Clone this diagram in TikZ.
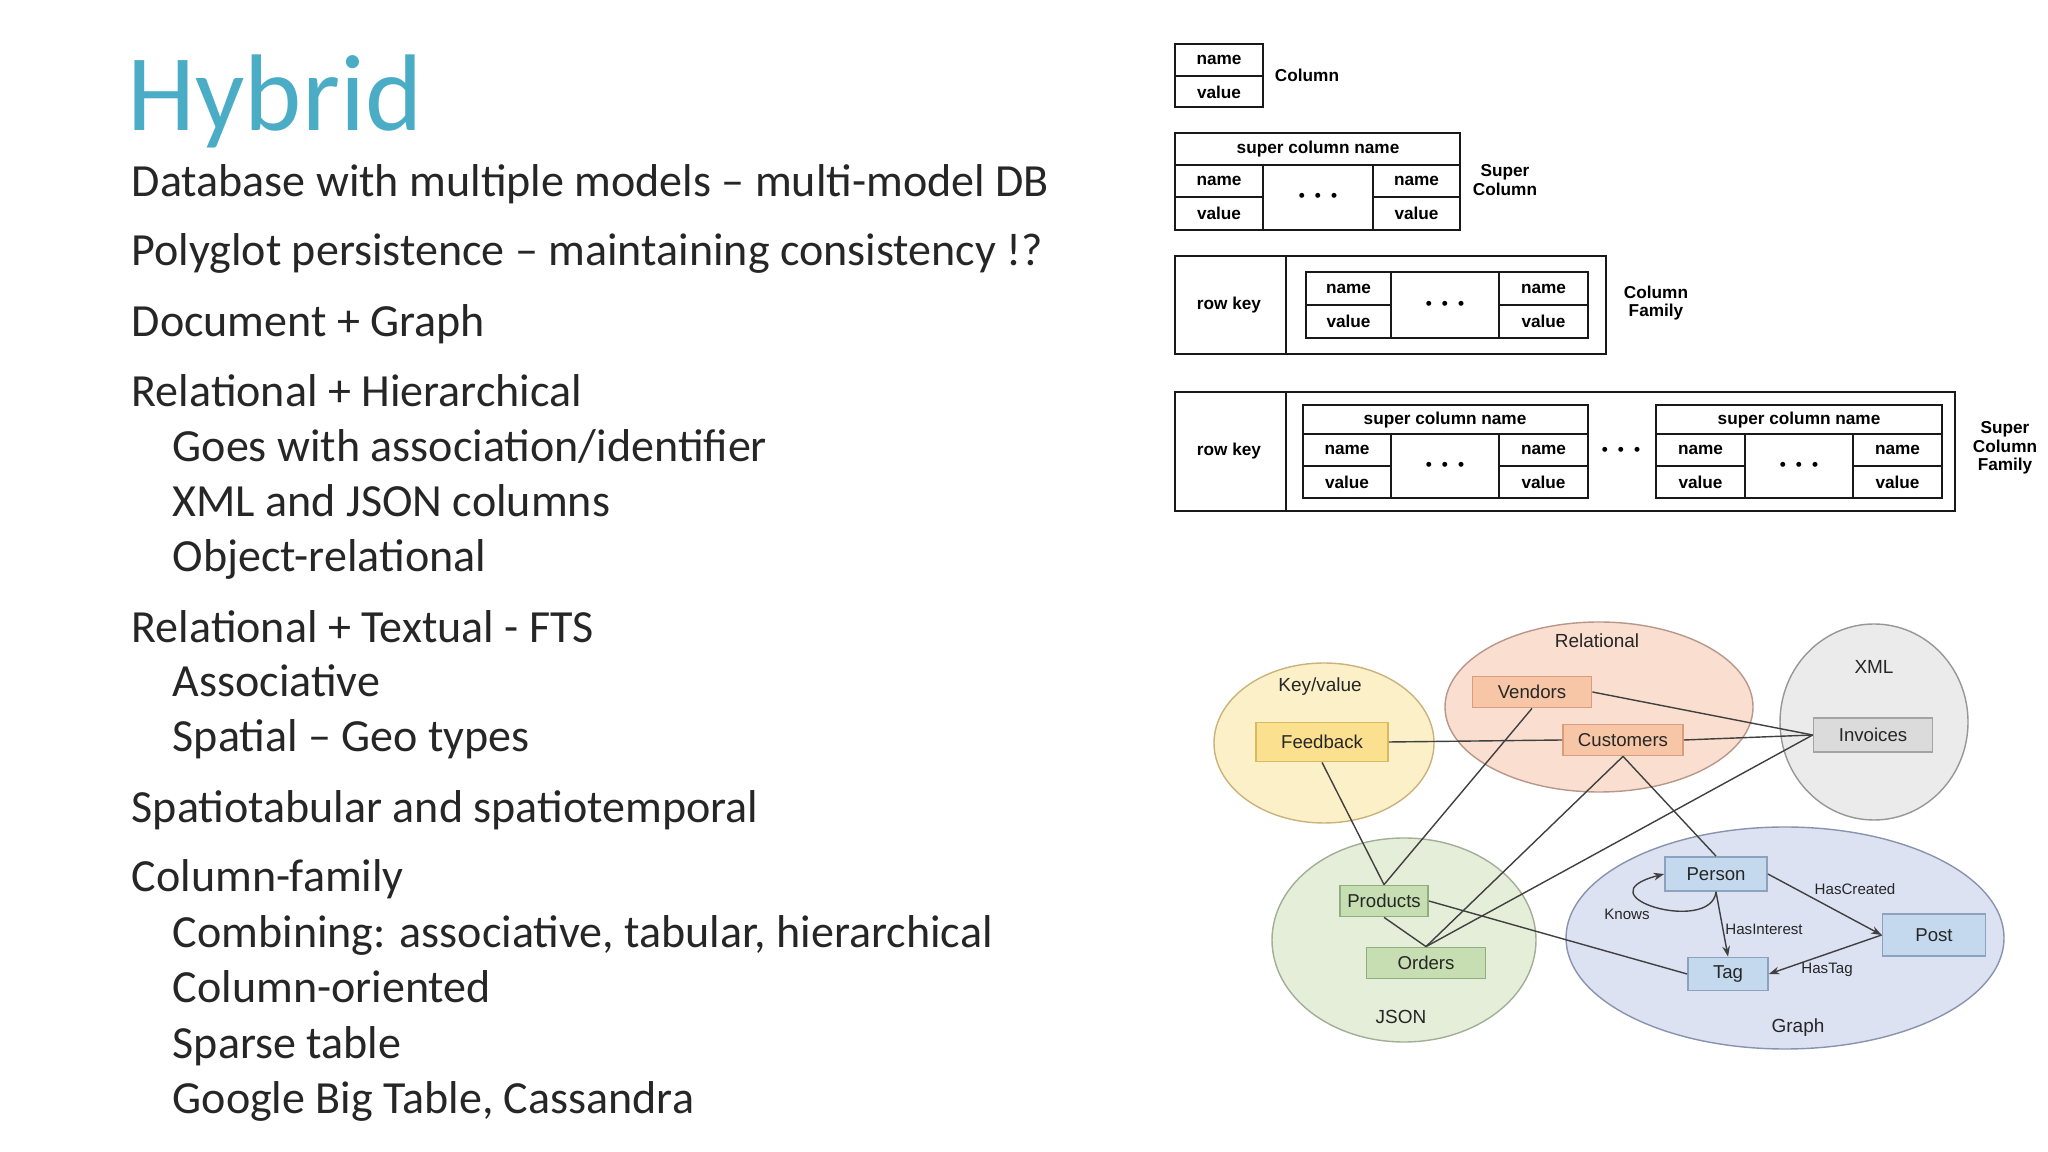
\documentclass[tikz,border=0pt]{standalone}
\usepackage{fontspec}
\setmainfont{Carlito}
\newfontfamily\arialfont{Liberation Sans}
\usetikzlibrary{arrows.meta}

\definecolor{titleblue}{HTML}{4BACC6}
\definecolor{ink}{HTML}{262626}
\definecolor{kvfill}{HTML}{FCF0C8}
\definecolor{kvline}{HTML}{C9B37A}
\definecolor{kvbox}{HTML}{FBE08F}
\definecolor{kvboxline}{HTML}{D8BA60}
\definecolor{relfill}{HTML}{FADFD0}
\definecolor{relline}{HTML}{B8978A}
\definecolor{relbox}{HTML}{F6C6A6}
\definecolor{relboxline}{HTML}{D99C7C}
\definecolor{xmlfill}{HTML}{EBEBEB}
\definecolor{xmlline}{HTML}{979797}
\definecolor{xmlbox}{HTML}{DBDBDB}
\definecolor{xmlboxline}{HTML}{A3A3A3}
\definecolor{jsonfill}{HTML}{E5EED9}
\definecolor{jsonline}{HTML}{A2AE96}
\definecolor{jsonbox}{HTML}{C6DEB2}
\definecolor{jsonboxline}{HTML}{8FAE80}
\definecolor{graphfill}{HTML}{DCE2F2}
\definecolor{graphline}{HTML}{8A93AE}
\definecolor{graphbox}{HTML}{C4D9EE}
\definecolor{graphboxline}{HTML}{8CA2BF}

\begin{document}
\begin{tikzpicture}[x=0.1mm, y=-0.1mm,
    bulletline/.style={anchor=base west, inner sep=0pt, text=ink, font=\fontsize{13.1}{15}\selectfont},
    cell/.style={inner sep=0pt, align=center, font=\arialfont\bfseries\fontsize{4.9}{5.3}\selectfont},
    tabline/.style={line width=0.7pt, draw=black!90},
    entity/.style={draw, rectangle, inner sep=0pt, line width=0.5pt, text=black!85,
                   font=\arialfont\fontsize{5.3}{6}\selectfont},
    modellabel/.style={inner sep=0pt, text=black!85, font=\arialfont\fontsize{5.4}{6}\selectfont},
    rellabel/.style={inner sep=0pt, text=black!85, font=\arialfont\fontsize{4.3}{5}\selectfont},
    link/.style={draw=black!75, line width=0.4pt},
    arr/.style={link, -{Stealth[length=3pt, width=2.2pt]}}]

    \useasboundingbox (0,0) rectangle (2048,1152);% whole slide

    % ---- left column: title and items
    \node[anchor=base west, inner sep=0pt, text=titleblue, font=\fontsize{31}{36}\selectfont] (title) at (127,131) {Hybrid};
    \node[bulletline] (itemA)  at (131,197)  {Database with multiple models – multi-model DB};
    \node[bulletline] (itemB)  at (131,266)  {Polyglot persistence – maintaining consistency !?};
    \node[bulletline] (itemC)  at (131,337)  {Document + Graph};
    \node[bulletline] (itemD)  at (131,407)  {Relational + Hierarchical};
    \node[bulletline] (itemD1) at (172,462)  {Goes with association/identifier};
    \node[bulletline] (itemD2) at (172,517)  {XML and JSON columns};
    \node[bulletline] (itemD3) at (172,572)  {Object-relational};
    \node[bulletline] (itemE)  at (131,643)  {Relational + Textual - FTS};
    \node[bulletline] (itemE1) at (172,697)  {Associative};
    \node[bulletline] (itemE2) at (172,752)  {Spatial – Geo types};
    \node[bulletline] (itemF)  at (131,823)  {Spatiotabular and spatiotemporal};
    \node[bulletline] (itemG)  at (131,892)  {Column-family};
    \node[bulletline] (itemG1) at (172,948)  {Combining: associative, tabular, hierarchical};
    \node[bulletline] (itemG2) at (172,1003) {Column-oriented};
    \node[bulletline] (itemG3) at (172,1058) {Sparse table};
    \node[bulletline] (itemG4) at (172,1113) {Google Big Table, Cassandra};

    % ---- column structures
    \draw[tabline] (1175,44) rectangle (1263,107);
    \draw[tabline] (1175,76) -- (1263,76);
    \node[cell] (colname)  at (1219,60) {name};
    \node[cell] (colvalue) at (1219,92) {value};
    \node[cell] (collabel) at (1307,75) {Column};

    % outer frames and headers
    \draw[tabline] (1175,133) rectangle (1460,165);
    \node[cell] (schead) at (1318,149) {super column name};
    \draw[tabline] (1175,256) rectangle (1606,354);
    \draw[tabline] (1286,256) -- (1286,354);
    \node[cell] (cfkey) at (1229,305) {row key};
    \draw[tabline] (1175,392) rectangle (1955,511);
    \draw[tabline] (1286,392) -- (1286,511);
    \node[cell] (scfkey) at (1229,451) {row key};
    \draw[tabline] (1303,405) rectangle (1588,434);
    \node[cell] (scfheadA) at (1445,420) {super column name};
    \draw[tabline] (1656,405) rectangle (1942,434);
    \node[cell] (scfheadB) at (1799,420) {super column name};
    \node[cell] (scfdots) at (1621,451) {\textbullet\hspace{2.9pt}\textbullet\hspace{2.9pt}\textbullet};

    % name/value ... name/value groups
    \foreach \xa/\xb/\xc/\xd/\ya/\yb/\yc [count=\i] in
        {1175/1263/1373/1460/165/197/230, 1306/1391/1499/1588/272/305/338,
         1303/1391/1499/1588/434/466/498, 1656/1745/1853/1942/434/466/498}{
      \draw[tabline] (\xa,\ya) rectangle (\xd,\yc);
      \draw[tabline] (\xb,\ya) -- (\xb,\yc) (\xc,\ya) -- (\xc,\yc);
      \draw[tabline] (\xa,\yb) -- (\xb,\yb) (\xc,\yb) -- (\xd,\yb);
      \node[cell] (nameL\i)  at ({(\xa+\xb)/2},{(\ya+\yb)/2}) {name};
      \node[cell] (valueL\i) at ({(\xa+\xb)/2},{(\yb+\yc)/2}) {value};
      \node[cell] (nameR\i)  at ({(\xc+\xd)/2},{(\ya+\yb)/2}) {name};
      \node[cell] (valueR\i) at ({(\xc+\xd)/2},{(\yb+\yc)/2}) {value};
      \node[cell] (dots\i)   at ({(\xb+\xc)/2},\yb) {\textbullet\hspace{2.9pt}\textbullet\hspace{2.9pt}\textbullet};
    }

    \node[cell] (sclabel)  at (1505,180) {Super\\Column};
    \node[cell] (cflabel)  at (1656,303) {Column\\Family};
    \node[cell] (scflabel) at (2005,448) {Super\\Column\\Family};

    % ---- multi-model picture
    \draw[fill=kvfill,    draw=kvline,    line width=0.4pt] (1324,743) ellipse [x radius=110, y radius=80];
    \draw[fill=relfill,   draw=relline,   line width=0.4pt] (1599,707) ellipse [x radius=154, y radius=85];
    \draw[fill=xmlfill,   draw=xmlline,   line width=0.4pt] (1874,722) ellipse [x radius=94,  y radius=98];
    \draw[fill=jsonfill,  draw=jsonline,  line width=0.4pt] (1404,940) ellipse [x radius=132, y radius=102];
    \draw[fill=graphfill, draw=graphline, line width=0.4pt] (1785,938) ellipse [x radius=219, y radius=111];

    \node[modellabel] (kvlabel)    at (1320,687)  {Key/value};
    \node[modellabel] (rellabelA)  at (1597,641)  {Relational};
    \node[modellabel] (xmllabel)   at (1874,667)  {XML};
    \node[modellabel] (jsonlabel)  at (1401,1017) {JSON};
    \node[modellabel] (graphlabel) at (1798,1028) {Graph};

    \node[entity, fill=kvbox,    draw=kvboxline,    minimum width=13.2mm, minimum height=3.9mm] (feedback)  at (1322,742) {Feedback};
    \node[entity, fill=relbox,   draw=relboxline,   minimum width=11.9mm, minimum height=3.1mm] (vendors)   at (1532,692) {Vendors};
    \node[entity, fill=relbox,   draw=relboxline,   minimum width=12.0mm, minimum height=3.1mm] (customers) at (1623,740) {Customers};
    \node[entity, fill=xmlbox,   draw=xmlboxline,   minimum width=11.9mm, minimum height=3.4mm] (invoices)  at (1873,735) {Invoices};
    \node[entity, fill=jsonbox,  draw=jsonboxline,  minimum width=8.8mm,  minimum height=3.1mm] (products)  at (1384,901) {Products};
    \node[entity, fill=jsonbox,  draw=jsonboxline,  minimum width=11.9mm, minimum height=3.1mm] (orders)    at (1426,963) {Orders};
    \node[entity, fill=graphbox, draw=graphboxline, minimum width=10.2mm, minimum height=3.4mm] (person)    at (1716,874) {Person};
    \node[entity, fill=graphbox, draw=graphboxline, minimum width=10.3mm, minimum height=4.2mm] (post)      at (1934,935) {Post};
    \node[entity, fill=graphbox, draw=graphboxline, minimum width=8.0mm,  minimum height=3.3mm] (tag)       at (1728,974) {Tag};

    % links between models
    \draw[link] (vendors.east) -- (invoices.west);
    \draw[link] (feedback.east) -- (customers.west);
    \draw[link] (customers.east) -- (invoices.west);
    \draw[link] (feedback.south) -- (products.north);
    \draw[link] (vendors.south) -- (products.north);
    \draw[link] (customers.south) -- (orders.north);
    \draw[link] (customers.south) -- (person.north);
    \draw[link] (invoices.west) -- (orders.north);
    \draw[link] (products.south) -- (orders.north);
    \draw[link] (products.east) -- (tag.west);

    % graph edges
    \draw[arr] (person.south) .. controls +(-5,43) and +(-85,22) .. (person.west);
    \draw[arr] (person.south) -- (tag.north);
    \draw[arr] (person.east) -- (post.west);
    \draw[arr] (post.west) -- (tag.east);
    \node[rellabel] (knows)       at (1627,914) {Knows};
    \node[rellabel] (hasinterest) at (1764,929) {HasInterest};
    \node[rellabel] (hascreated)  at (1855,889) {HasCreated};
    \node[rellabel] (hastag)      at (1827,970) {HasTag};
\end{tikzpicture}
\end{document}
